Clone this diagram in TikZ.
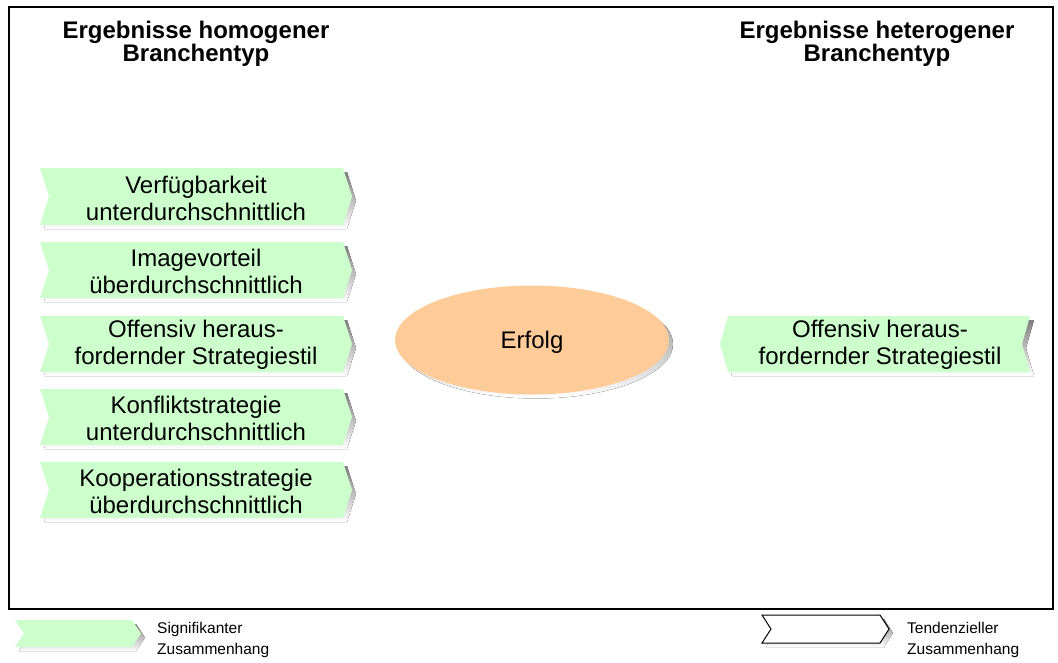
\documentclass[tikz,border=0pt]{standalone}
\usepackage{fontspec}
\setmainfont{Liberation Sans}
\definecolor{sigfill}{HTML}{CCFFCC}
\definecolor{goalfill}{HTML}{FFCC99}
\definecolor{shade}{HTML}{808080}
\tikzset{
  label/.style={align=center,inner sep=0pt,font=\fontsize{24}{27}\selectfont},
  heading/.style={align=center,inner sep=0pt,font=\fontsize{24}{23.5}\selectfont\bfseries},
  legendtext/.style={align=left,anchor=west,inner sep=0pt,font=\fontsize{15.5}{21}\selectfont},
  frame/.style={draw=black,line width=1.3pt},
  sigbox/.style={fill=sigfill},
  tendbox/.style={fill=white,draw=black,line width=1pt},
}
% right-pointing banner: left x, top y, right x, bottom y, style
\newcommand\rbanner[5]{%
  \begin{scope}[shift={(4,4)}]
    \fill[shade] ({#1},{#2}) -- ({#3},{#2}) -- ({#3+9},{(#2+#4)/2}) -- ({#3},{#4})
      -- ({#1},{#4}) -- ({#1+9},{(#2+#4)/2}) -- cycle;
  \end{scope}
  \path[#5] ({#1},{#2}) -- ({#3},{#2}) -- ({#3+9},{(#2+#4)/2}) -- ({#3},{#4})
      -- ({#1},{#4}) -- ({#1+9},{(#2+#4)/2}) -- cycle;}
% left-pointing banner: left x, top y, right x, bottom y, style
\newcommand\lbanner[5]{%
  \begin{scope}[shift={(4,4)}]
    \fill[shade] ({#1+8},{#2}) -- ({#3},{#2}) -- ({#3-8},{(#2+#4)/2}) -- ({#3},{#4})
      -- ({#1+8},{#4}) -- ({#1},{(#2+#4)/2}) -- cycle;
  \end{scope}
  \path[#5] ({#1+8},{#2}) -- ({#3},{#2}) -- ({#3-8},{(#2+#4)/2}) -- ({#3},{#4})
      -- ({#1+8},{#4}) -- ({#1},{(#2+#4)/2}) -- cycle;}
\begin{document}
\begin{tikzpicture}[x=1pt,y=-1pt]
  \useasboundingbox[fill=white] (0,0) rectangle (1058,662);
  \draw[frame] (9,7) rectangle (1053,609);

  % headings
  \node[heading] (hhom) at (196,44) {Ergebnisse homogener\\Branchentyp};
  \node[heading] (hhet) at (877,44) {Ergebnisse heterogener\\Branchentyp};

  % homogeneous results
  \rbanner{40}{168}{343}{225}{sigbox}
  \node[label] (b1) at (196,198) {Verfügbarkeit\\unterdurchschnittlich};
  \rbanner{40}{242}{343}{298}{sigbox}
  \node[label] (b2) at (196,271) {Imagevorteil\\überdurchschnittlich};
  \rbanner{40}{316}{343}{372}{sigbox}
  \node[label] (b3) at (196,345) {Offensiv heraus-\\fordernder Strategiestil};
  \rbanner{40}{389}{343}{445}{sigbox}
  \node[label] (b4) at (196,418) {Konfliktstrategie\\unterdurchschnittlich};
  \rbanner{40}{462}{343}{518}{sigbox}
  \node[label] (b5) at (196,491) {Kooperationsstrategie\\überdurchschnittlich};

  % success
  \fill[shade] (536,344) ellipse [x radius=137, y radius=54.5];
  \fill[goalfill] (532,340) ellipse [x radius=137, y radius=54.5];
  \node[label] (erfolg) at (532,342) {Erfolg};

  % heterogeneous results
  \lbanner{720}{316}{1030}{372}{sigbox}
  \node[label] (r1) at (880,345) {Offensiv heraus-\\fordernder Strategiestil};

  % legend
  \rbanner{15}{620}{132}{647}{sigbox}
  \node[legendtext] (lsig) at (157,640) {Signifikanter\\Zusammenhang};
  \rbanner{762}{615}{880}{643}{tendbox}
  \node[legendtext] (ltend) at (907,640) {Tendenzieller\\Zusammenhang};
\end{tikzpicture}
\end{document}
